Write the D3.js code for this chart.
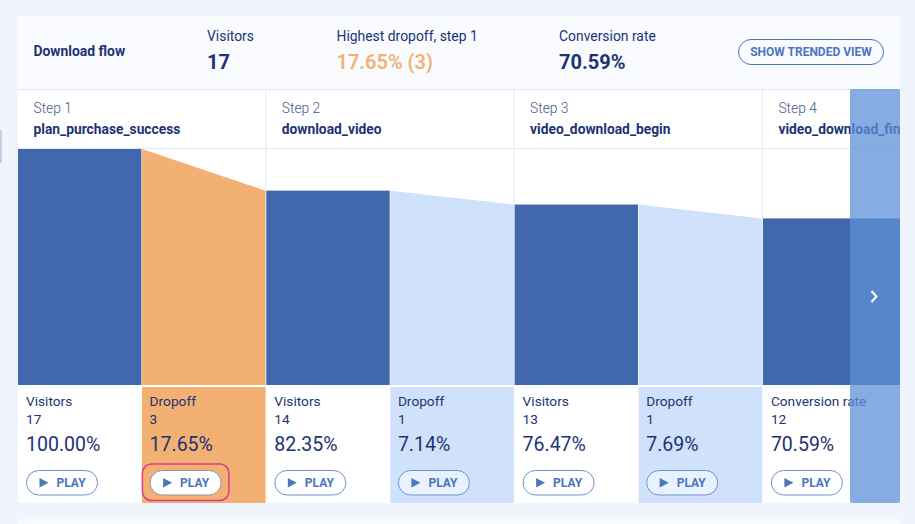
<!DOCTYPE html>
<html><head><meta charset="utf-8">
<script src="https://cdn.jsdelivr.net/npm/d3@7"></script>
<style>html,body{margin:0;padding:0;background:#f0f4fd}svg{display:block}text{font-family:Roboto,sans-serif}</style>
</head><body><svg id="c" width="915" height="524"></svg>
<script>
const stepLabels=["Step 1","Step 2","Step 3","Step 4"];
const stepNames=["plan_purchase_success","download_video","video_download_begin","video_download_finish"];
const visitors=[17,14,13,12];
const visitorPct=["100.00%","82.35%","76.47%","70.59%"];
const visitorTitles=["Visitors","Visitors","Visitors","Conversion rate"];
const dropoffs=[3,1,1];
const dropoffPct=["17.65%","7.14%","7.69%"];
const summaryLabels=["Visitors","Highest dropoff, step 1","Conversion rate"];
const summaryValues=["17","17.65% (3)","70.59%"];
const title="Download flow", trendLabel="SHOW TRENDED VIEW", playLabel="PLAY";

const navy="#1c3375",bar="#4167ad",pale="#d0e2fb",orange="#f3b073",grid="#dfe9f9",accent="#4a76bf";
const svg=d3.select("#c");
const x=d3.scaleLinear().domain([0,1]).range([18,266.3]);
const y=d3.scaleLinear().domain([0,17]).range([385,149]);
const barW=123.4, dropX=i=>x(i)+124;

svg.append("rect").attr("x",0).attr("y",130).attr("width",2).attr("height",33).attr("fill","#c3cfe6");
svg.append("rect").attr("x",18).attr("y",519).attr("width",882).attr("height",5).attr("fill","#f8faff");
svg.append("defs").append("clipPath").attr("id","p").append("rect").attr("x",18).attr("y",16).attr("width",882).attr("height",487);
svg.append("rect").attr("x",18).attr("y",16).attr("width",882).attr("height",73).attr("fill","#f9fbff");
const g=svg.append("g").attr("clip-path","url(#p)");
g.append("rect").attr("x",18).attr("y",90).attr("width",882).attr("height",413).attr("fill","#fff");

function t(sel,s,px,py,size,fill,weight){return sel.append("text").text(s).attr("x",px).attr("y",py).attr("font-size",size).attr("fill",fill).attr("font-weight",weight||400);}

// header
t(g,title,33.5,56,13.9,navy,700);
[207,336.5,559].forEach((px,i)=>{
  t(g,summaryLabels[i],px,41,13.9,navy,400);
  t(g,summaryValues[i],px,69,20,i===1?orange:navy,i===1?600:700);
});
g.append("rect").attr("x",738.5).attr("y",39.5).attr("width",145).attr("height",25).attr("rx",12.5).attr("fill","none").attr("stroke",accent);
t(g,trendLabel,811,56,12,accent,700).attr("text-anchor","middle");

// rules
g.append("line").attr("x1",18).attr("x2",900).attr("y1",89.5).attr("y2",89.5).attr("stroke",grid);
g.append("line").attr("x1",18).attr("x2",900).attr("y1",148.5).attr("y2",148.5).attr("stroke",grid);
[1,2,3].forEach(i=>g.append("line").attr("x1",x(i)-.5).attr("x2",x(i)-.5).attr("y1",90).attr("y2",y(visitors[i])).attr("stroke",grid));

// dropoff wedges
g.selectAll("path.drop").data(dropoffs).join("path").attr("class","drop")
 .attr("d",(d,i)=>d3.line()([[dropX(i),y(visitors[i])],[x(i+1)-.7,y(visitors[i+1])],[x(i+1)-.7,y(0)],[dropX(i),y(0)]])+"Z")
 .attr("fill",(d,i)=>i===0?orange:pale);
// visitor bars
g.selectAll("rect.bar").data(visitors).join("rect").attr("class","bar")
 .attr("x",(d,i)=>x(i)).attr("y",d=>y(d)).attr("width",(d,i)=>i===visitors.length-1?140:barW).attr("height",d=>y(0)-y(d)).attr("fill",bar);

// footer fills
g.selectAll("rect.df").data(dropoffs).join("rect").attr("class","df")
 .attr("x",(d,i)=>dropX(i)).attr("y",387).attr("width",x(1)-x(0)-124.7).attr("height",116).attr("fill",(d,i)=>i===0?orange:pale);

function play(px,kind){
  const b=g.append("g").attr("transform",`translate(${px},470)`);
  if(kind==="active") g.append("rect").attr("x",px-7.2).attr("y",464).attr("width",86.5).attr("height",36.5).attr("rx",9).attr("fill","none").attr("stroke","#e0398c").attr("stroke-width",1.5);
  b.append("rect").attr("x",.5).attr("y",.5).attr("width",71).attr("height",24.5).attr("rx",12.2)
   .attr("fill",kind==="active"?"#fff":kind==="pale"?"#e8f1fe":"#fff")
   .attr("stroke",kind==="active"?"#8d97ad":"#6f93cf");
  b.append("path").attr("d","M13.5 8L22.5 12.7L13.5 17.5Z").attr("fill",accent);
  t(b,playLabel,30.5,17,12,accent,700);
}
visitors.forEach((v,i)=>{
  const px=x(i);
  t(g,stepLabels[i],px+15.5,113,13.8,"#46568f",300);
  t(g,stepNames[i],px+15.5,134,13.8,navy,700);
  t(g,visitorTitles[i],px+8,406,13.7,navy);
  t(g,v,px+8,424,13.7,navy);
  t(g,visitorPct[i],px+8,451,19.5,navy);
  play(px+8,"plain");
});
dropoffs.forEach((v,i)=>{
  const px=dropX(i)+7.6;
  t(g,"Dropoff",px,406,13.7,navy);
  t(g,v,px,424,13.7,navy);
  t(g,dropoffPct[i],px,451,19.5,navy);
  play(px,i===0?"active":"pale");
});

// scroll overlay
g.append("rect").attr("x",850).attr("y",89).attr("width",50).attr("height",414).attr("rx",2).attr("fill","#5f90d8").attr("fill-opacity",.75);
g.append("path").attr("d","M871.5 291L876.5 296.5L871.5 302").attr("fill","none").attr("stroke","#fff").attr("stroke-width",2);
</script></body></html>
